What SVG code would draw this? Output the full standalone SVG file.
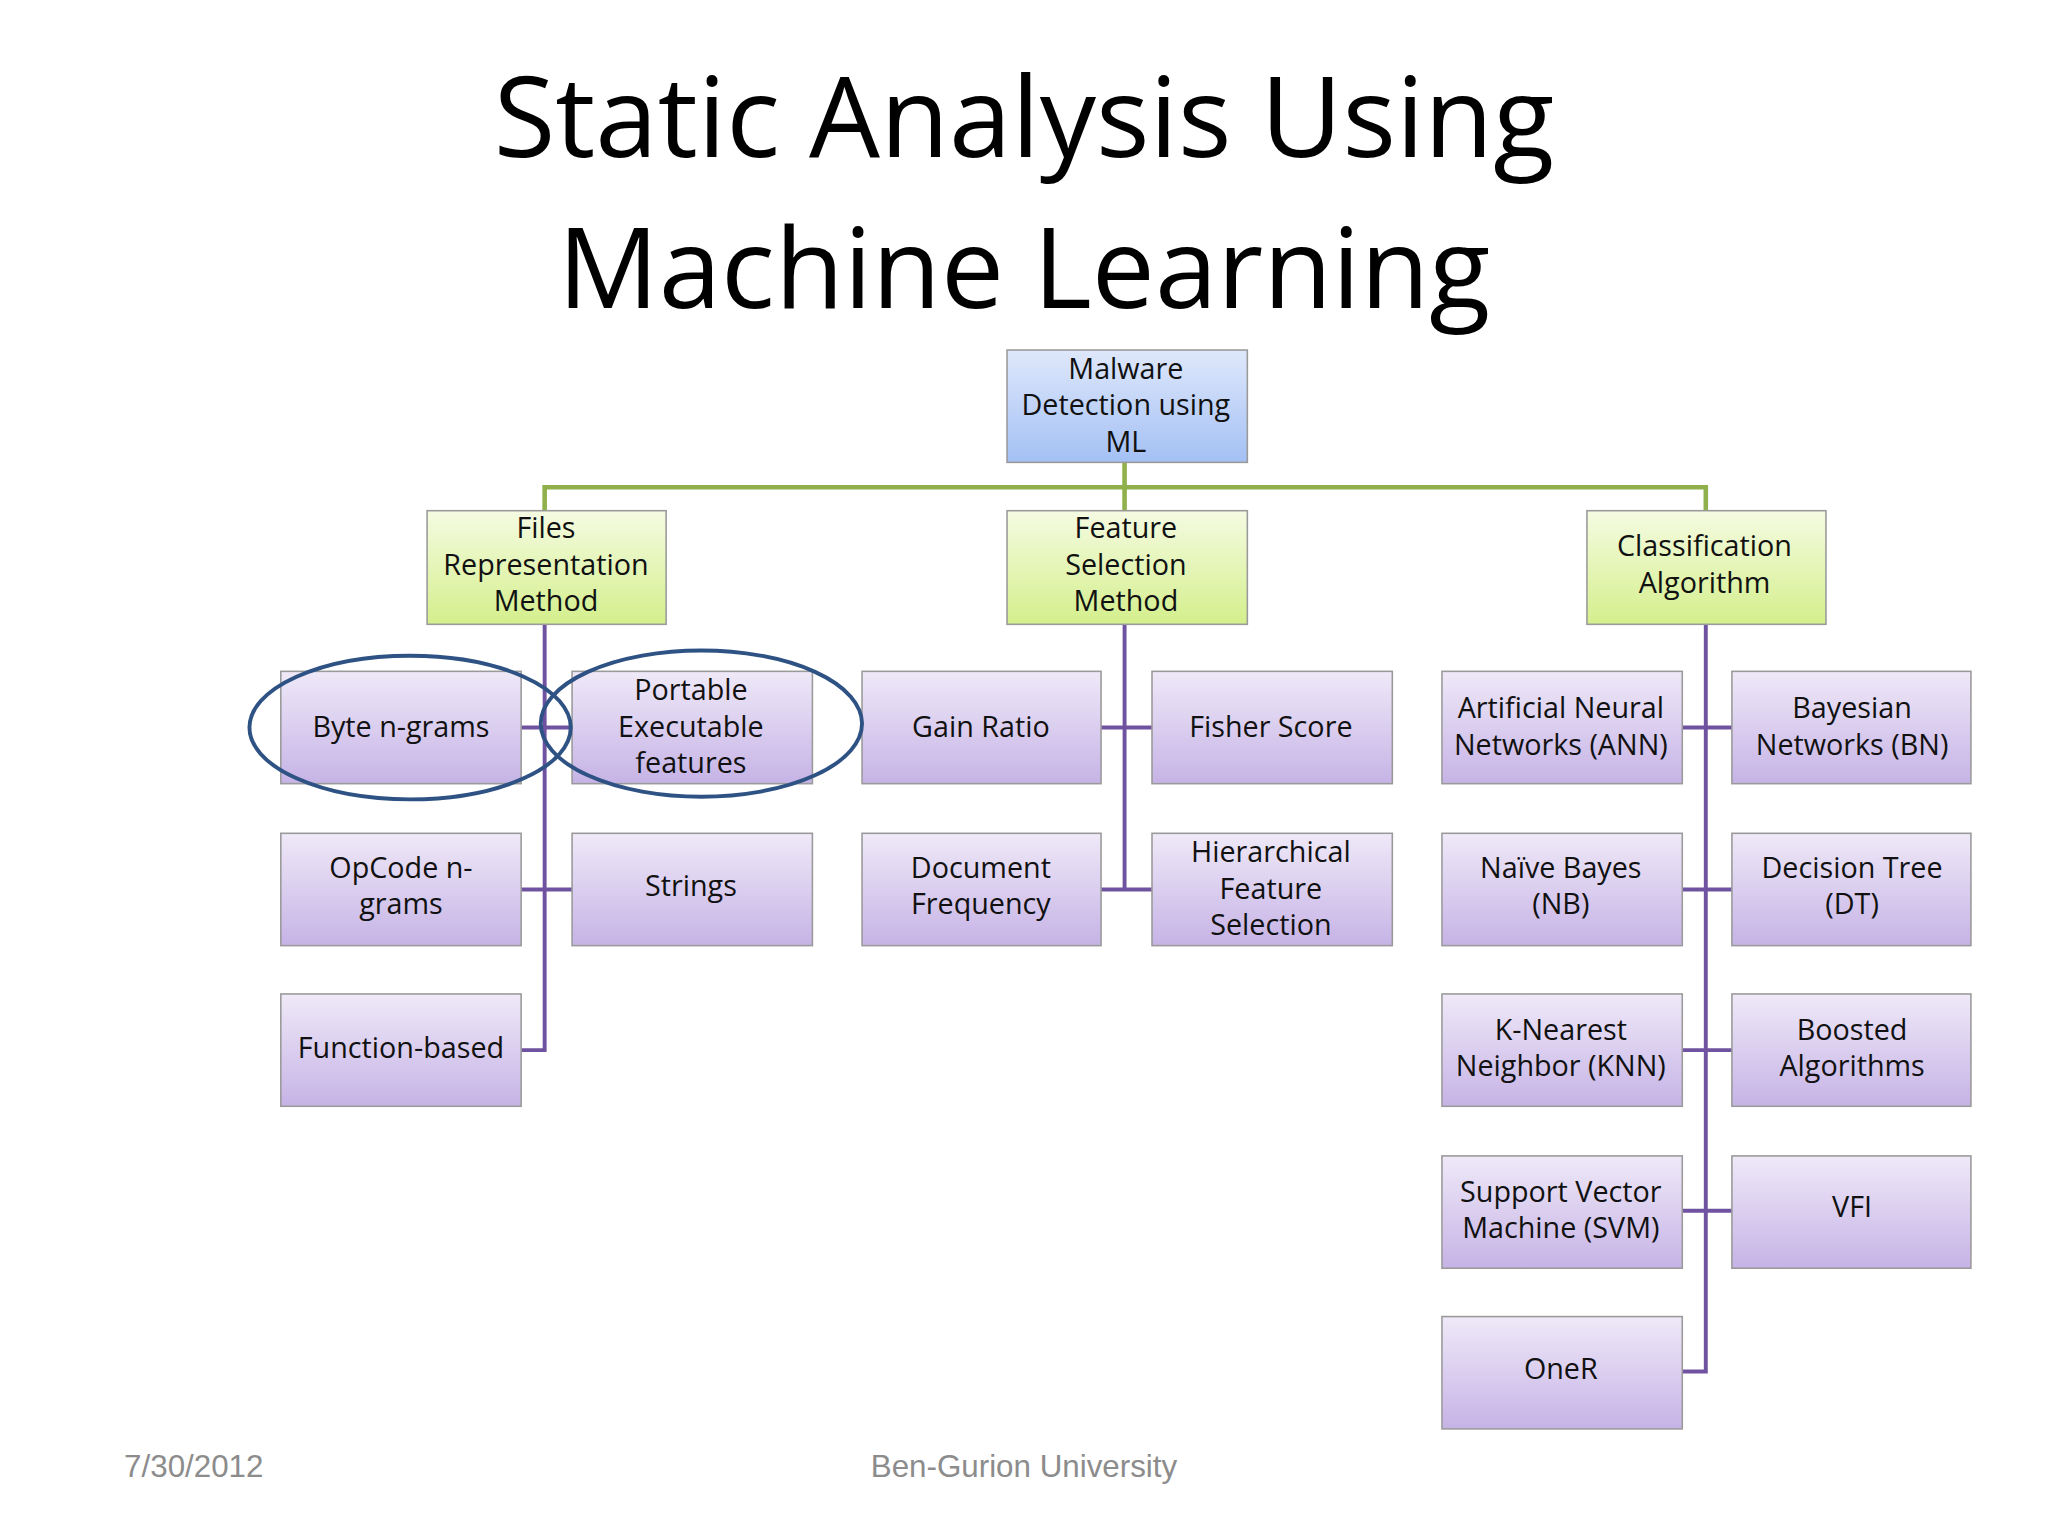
<svg xmlns="http://www.w3.org/2000/svg" width="2048" height="1536" viewBox="0 0 2048 1536">
<defs>
<linearGradient id="gb" x1="0" y1="0" x2="0" y2="1"><stop offset="0" stop-color="#dfe8fb"/><stop offset="1" stop-color="#a3c0f4"/></linearGradient>
<linearGradient id="gg" x1="0" y1="0" x2="0" y2="1"><stop offset="0" stop-color="#f5fbe2"/><stop offset="1" stop-color="#d4ef8c"/></linearGradient>
<linearGradient id="gp" x1="0" y1="0" x2="0" y2="1"><stop offset="0" stop-color="#efe9f8"/><stop offset="1" stop-color="#c6b3e6"/></linearGradient>
<style>
.b{stroke:#9a9a9a;stroke-width:1.2}
.blue{fill:url(#gb)}.green{fill:url(#gg)}.purple{fill:url(#gp)}
text{font-family:"Open Sans","Liberation Sans",sans-serif;fill:#111}
.t{font-size:22px;text-anchor:middle}
.gl{stroke:#8fb04a;stroke-width:3.5;fill:none}
.pl{stroke:#6f52a0;stroke-width:3;fill:none}
.ov{fill:none;stroke:#2e5283;stroke-width:3}
</style>
</defs>
<rect width="2048" height="1536" fill="#fff"/>
<g transform="scale(1.30612)">
<text x="784" y="120" font-size="86" text-anchor="middle" style="fill:#000">Static Analysis Using</text>
<text x="784" y="236" font-size="86" text-anchor="middle" style="fill:#000">Machine Learning</text>
<g id="connectors">
<path class="gl" d="M861 354V391M417 391V373H1306V391"/>
<path class="pl" d="M417 478V804H399M399 557H438M399 681H438"/>
<path class="pl" d="M861 478V681H843M843 557H882M861 681H882"/>
<path class="pl" d="M1306 478V1050H1288M1288 557H1326M1288 681H1326M1288 804H1326M1288 927H1326"/>
</g>
<g id="root"><rect class="b blue" x="771" y="268" width="184" height="86"/><text class="t" x="862" y="290">Malware</text><text class="t" x="862" y="318">Detection using</text><text class="t" x="862" y="346">ML</text></g>
<g id="files"><rect class="b green" x="327" y="391" width="183" height="87"/><text class="t" x="418" y="412">Files</text><text class="t" x="418" y="440">Representation</text><text class="t" x="418" y="468">Method</text></g>
<g id="feature"><rect class="b green" x="771" y="391" width="184" height="87"/><text class="t" x="862" y="412">Feature</text><text class="t" x="862" y="440">Selection</text><text class="t" x="862" y="468">Method</text></g>
<g id="class"><rect class="b green" x="1215" y="391" width="183" height="87"/><text class="t" x="1305" y="426">Classification</text><text class="t" x="1305" y="454">Algorithm</text></g>
<g id="byte"><rect class="b purple" x="215" y="514" width="184" height="86"/><text class="t" x="307" y="564">Byte n-grams</text></g>
<g id="pe"><rect class="b purple" x="438" y="514" width="184" height="86"/><text class="t" x="529" y="536">Portable</text><text class="t" x="529" y="564">Executable</text><text class="t" x="529" y="592">features</text></g>
<g id="opcode"><rect class="b purple" x="215" y="638" width="184" height="86"/><text class="t" x="307" y="672">OpCode n-</text><text class="t" x="307" y="700">grams</text></g>
<g id="strings"><rect class="b purple" x="438" y="638" width="184" height="86"/><text class="t" x="529" y="686">Strings</text></g>
<g id="func"><rect class="b purple" x="215" y="761" width="184" height="86"/><text class="t" x="307" y="810">Function-based</text></g>
<g id="gain"><rect class="b purple" x="660" y="514" width="183" height="86"/><text class="t" x="751" y="564">Gain Ratio</text></g>
<g id="fisher"><rect class="b purple" x="882" y="514" width="184" height="86"/><text class="t" x="973" y="564">Fisher Score</text></g>
<g id="docfreq"><rect class="b purple" x="660" y="638" width="183" height="86"/><text class="t" x="751" y="672">Document</text><text class="t" x="751" y="700">Frequency</text></g>
<g id="hier"><rect class="b purple" x="882" y="638" width="184" height="86"/><text class="t" x="973" y="660">Hierarchical</text><text class="t" x="973" y="688">Feature</text><text class="t" x="973" y="716">Selection</text></g>
<g id="ann"><rect class="b purple" x="1104" y="514" width="184" height="86"/><text class="t" x="1195" y="550">Artificial Neural</text><text class="t" x="1195" y="578">Networks (ANN)</text></g>
<g id="bn"><rect class="b purple" x="1326" y="514" width="183" height="86"/><text class="t" x="1418" y="550">Bayesian</text><text class="t" x="1418" y="578">Networks (BN)</text></g>
<g id="nb"><rect class="b purple" x="1104" y="638" width="184" height="86"/><text class="t" x="1195" y="672">Naïve Bayes</text><text class="t" x="1195" y="700">(NB)</text></g>
<g id="dt"><rect class="b purple" x="1326" y="638" width="183" height="86"/><text class="t" x="1418" y="672">Decision Tree</text><text class="t" x="1418" y="700">(DT)</text></g>
<g id="knn"><rect class="b purple" x="1104" y="761" width="184" height="86"/><text class="t" x="1195" y="796">K-Nearest</text><text class="t" x="1195" y="824">Neighbor (KNN)</text></g>
<g id="boost"><rect class="b purple" x="1326" y="761" width="183" height="86"/><text class="t" x="1418" y="796">Boosted</text><text class="t" x="1418" y="824">Algorithms</text></g>
<g id="svm"><rect class="b purple" x="1104" y="885" width="184" height="86"/><text class="t" x="1195" y="920">Support Vector</text><text class="t" x="1195" y="948">Machine (SVM)</text></g>
<g id="vfi"><rect class="b purple" x="1326" y="885" width="183" height="86"/><text class="t" x="1418" y="932">VFI</text></g>
<g id="oner"><rect class="b purple" x="1104" y="1008" width="184" height="86"/><text class="t" x="1195" y="1056">OneR</text></g>
<ellipse class="ov" cx="314" cy="557" rx="123" ry="55"/>
<ellipse class="ov" cx="537" cy="554" rx="123" ry="56"/>
<text x="95" y="1131" font-size="24" style="fill:#8c8c8c;font-family:'Liberation Sans',sans-serif">7/30/2012</text>
<text x="784" y="1131" font-size="24" text-anchor="middle" style="fill:#8c8c8c;font-family:'Liberation Sans',sans-serif">Ben-Gurion University</text>
</g>
</svg>
